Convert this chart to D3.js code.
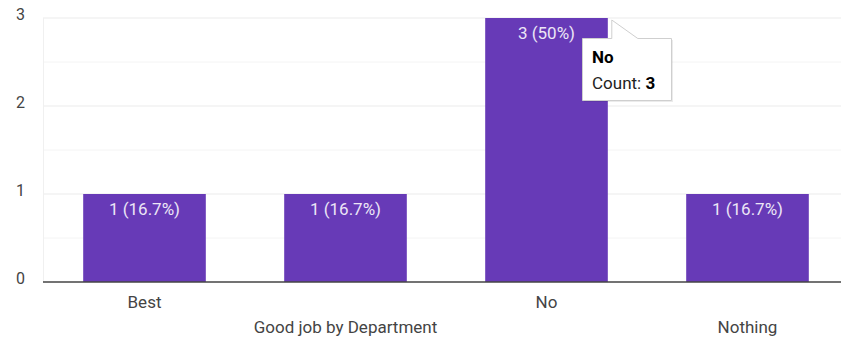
<!DOCTYPE html>
<html><head><meta charset="utf-8">
<script src="https://cdn.jsdelivr.net/npm/d3@7"></script>
<style>body{margin:0;background:#fff;}svg{display:block;font-family:Roboto,Arial,sans-serif;}</style>
</head><body><svg id="c" width="841" height="342"></svg>
<script>
const categories = ["Best", "Good job by Department", "No", "Nothing"];
const counts = [1, 1, 3, 1];
const percents = ["16.7%", "16.7%", "50%", "16.7%"];
const yTicks = [0, 1, 2, 3];
const yMinor = [0.5, 1.5, 2.5];
const tooltipIndex = 2;

(function () {
const svg = d3.select("#c");
const W = 841;
const pL = 43, pR = 848, pT = 18, pB = 282;
const FS = 17;

const x = d3.scaleBand().domain(categories).range([pL + 1, pR]).paddingInner(0.39).paddingOuter(0.195);
const y = d3.scaleLinear().domain([0, 3]).range([pB, pT]);

// minor grid
svg.append("g").selectAll("line").data(yMinor).join("line")
  .attr("x1", pL).attr("x2", W).attr("y1", d => y(d)).attr("y2", d => y(d))
  .attr("stroke", "#f4f4f4").attr("stroke-width", 1);
// major grid
svg.append("g").selectAll("line").data(yTicks.filter(d => d > 0)).join("line")
  .attr("x1", pL).attr("x2", W).attr("y1", d => y(d)).attr("y2", d => y(d))
  .attr("stroke", "#ebebeb").attr("stroke-width", 1.2);
// left vertical
svg.append("line").attr("x1", pL + 0.5).attr("x2", pL + 0.5).attr("y1", pT).attr("y2", pB)
  .attr("stroke", "#f0f0f0");

// y axis labels
const yAxis = d3.axisLeft(y).tickValues(yTicks).tickSize(0).tickPadding(0).tickFormat(d3.format("d"));
const gy = svg.append("g").attr("transform", "translate(25,0)").call(yAxis);
gy.select(".domain").remove();
gy.selectAll("text").attr("font-size", 16).attr("fill", "#444").attr("text-anchor", "end")
  .attr("font-family", "Roboto, Arial, sans-serif").attr("dy", "0.1em");

// bars
svg.append("g").selectAll("rect").data(categories).join("rect")
  .attr("x", d => x(d)).attr("width", x.bandwidth())
  .attr("y", (d, i) => y(counts[i])).attr("height", (d, i) => y(0) - y(counts[i]))
  .attr("fill", "#673ab7");

// bar labels
svg.append("g").selectAll("text").data(categories).join("text")
  .attr("x", d => x(d) + x.bandwidth() / 2)
  .attr("y", (d, i) => y(counts[i]) + 21)
  .attr("text-anchor", "middle").attr("font-size", FS).attr("fill", "#ece6f6")
  .text((d, i) => `${counts[i]} (${percents[i]})`);

// baseline
svg.append("line").attr("x1", pL).attr("x2", W).attr("y1", y(0)).attr("y2", y(0))
  .attr("stroke", "#444").attr("stroke-width", 1.5);

// x axis labels (staggered)
const xAxis = d3.axisBottom(x).tickSize(0).tickPadding(0);
const gx = svg.append("g").attr("transform", `translate(0,${pB})`).call(xAxis);
gx.select(".domain").remove();
gx.selectAll("text").attr("font-size", FS).attr("fill", "#444")
  .attr("font-family", "Roboto, Arial, sans-serif")
  .attr("dy", null)
  .attr("y", (d, i) => i % 2 === 0 ? 26 : 51);

// tooltip
const bx = x(categories[tooltipIndex]) + x.bandwidth();
const by = y(counts[tooltipIndex]);
const tip = svg.append("g");
tip.append("rect").attr("x", 583).attr("y", 39).attr("width", 89).attr("height", 62)
  .attr("fill", "#000").attr("opacity", 0.08).attr("transform", "translate(1,1)");
tip.append("path")
  .attr("d", `M582.5,38.5 L${bx + 4},38.5 L${bx + 4},${by + 2} L${bx + 30},38.5 L671.5,38.5 L671.5,100.5 L582.5,100.5 Z`)
  .attr("fill", "#fff").attr("stroke", "#cfcfcf").attr("stroke-width", 1);
tip.append("text").attr("x", 592).attr("y", 63).attr("font-size", FS).attr("font-weight", "bold")
  .attr("fill", "#000").text(categories[tooltipIndex]);
const t2 = tip.append("text").attr("x", 592).attr("y", 89).attr("font-size", FS).attr("fill", "#222");
t2.append("tspan").text("Count: ");
t2.append("tspan").attr("font-weight", "bold").attr("fill", "#000").text(counts[tooltipIndex]);
})();
</script></body></html>
